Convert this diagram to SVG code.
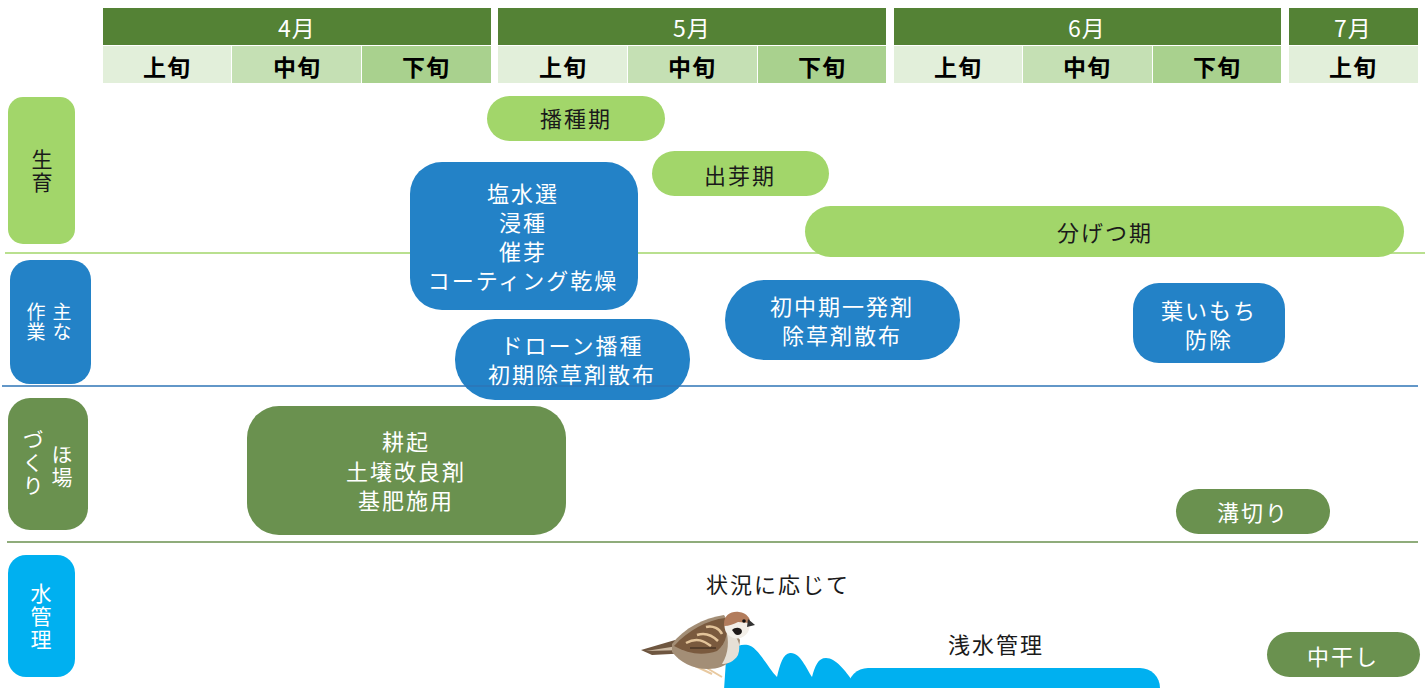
<svg xmlns="http://www.w3.org/2000/svg" width="1425" height="688" viewBox="0 0 1425 688">
  <style>
    text { font-family: "Noto Sans CJK JP", "Noto Sans", sans-serif; text-anchor: middle; }
    .month { fill: #548235; }
    .mtxt { fill: #ffffff; font-size: 23px; letter-spacing: 1px; }
    .c1 { fill: #E2EFDA; }
    .c2 { fill: #C5E0B4; }
    .c3 { fill: #A9D18E; }
    .dtxt { fill: #000000; font-size: 23px; font-weight: bold; letter-spacing: 1px; }
    .grow { fill: #A2D66A; }
    .work { fill: #2382C7; }
    .field { fill: #6A914F; }
    .water { fill: #00B0F0; }
    .blk { fill: #1a1a1a; font-size: 22px; letter-spacing: 2px; }
    .wht { fill: #ffffff; font-size: 22px; letter-spacing: 2px; }
    .vert { writing-mode: vertical-rl; font-size: 21px; letter-spacing: 2px; }
  </style>

  <!-- calendar header -->
  <g id="header">
    <rect class="month" x="103" y="8" width="388" height="37"/>
    <rect class="month" x="498" y="8" width="388" height="37"/>
    <rect class="month" x="894" y="8" width="387" height="37"/>
    <rect class="month" x="1289" y="8" width="129" height="37"/>
    <text class="mtxt" x="297" y="37">4月</text>
    <text class="mtxt" x="692" y="37">5月</text>
    <text class="mtxt" x="1087" y="37">6月</text>
    <text class="mtxt" x="1353" y="37">7月</text>

    <rect class="c1" x="103" y="46" width="128" height="37"/>
    <rect class="c2" x="232" y="46" width="129" height="37"/>
    <rect class="c3" x="362" y="46" width="129" height="37"/>
    <rect class="c1" x="498" y="46" width="129" height="37"/>
    <rect class="c2" x="628" y="46" width="129" height="37"/>
    <rect class="c3" x="758" y="46" width="128" height="37"/>
    <rect class="c1" x="894" y="46" width="128" height="37"/>
    <rect class="c2" x="1023" y="46" width="129" height="37"/>
    <rect class="c3" x="1153" y="46" width="128" height="37"/>
    <rect class="c1" x="1289" y="46" width="129" height="37"/>
    <text class="dtxt" x="167" y="76">上旬</text>
    <text class="dtxt" x="297" y="76">中旬</text>
    <text class="dtxt" x="426" y="76">下旬</text>
    <text class="dtxt" x="563" y="76">上旬</text>
    <text class="dtxt" x="692" y="76">中旬</text>
    <text class="dtxt" x="822" y="76">下旬</text>
    <text class="dtxt" x="958" y="76">上旬</text>
    <text class="dtxt" x="1087" y="76">中旬</text>
    <text class="dtxt" x="1217" y="76">下旬</text>
    <text class="dtxt" x="1353" y="76">上旬</text>
  </g>

  <!-- row separator under the growth row (sits behind the boxes) -->
  <g id="connectors">
    <line x1="5" y1="253" x2="1425" y2="253" stroke="#A2D66A" stroke-width="1.5"/>
  </g>

  <!-- row labels, set vertically -->
  <g id="label-growth">
    <rect class="grow" x="8" y="97" width="67" height="147" rx="15"/>
    <text class="vert" fill="#1a1a1a" x="42" y="172">生育</text>
  </g>
  <g id="label-work">
    <rect class="work" x="10" y="260" width="81" height="124" rx="20"/>
    <text class="vert" fill="#ffffff" style="font-size:19px;letter-spacing:1px" x="62" y="322">主な</text>
    <text class="vert" fill="#ffffff" style="font-size:19px;letter-spacing:1px" x="36" y="322">作業</text>
  </g>
  <g id="label-field">
    <rect class="field" x="8" y="398" width="80" height="132" rx="22"/>
    <text class="vert" fill="#ffffff" x="62" y="467">ほ場</text>
    <text class="vert" fill="#ffffff" x="33" y="463">づくり</text>
  </g>
  <g id="label-water">
    <rect class="water" x="8" y="555" width="67" height="122" rx="18"/>
    <text class="vert" fill="#ffffff" x="41" y="617">水管理</text>
  </g>

  <!-- growth stages -->
  <g id="sowing-period">
    <rect class="grow" x="487" y="96" width="178" height="45" rx="22.5"/>
    <text class="blk" x="576" y="127">播種期</text>
  </g>
  <g id="emergence-period">
    <rect class="grow" x="652" y="151" width="177" height="45" rx="22.5"/>
    <text class="blk" x="740" y="184">出芽期</text>
  </g>
  <g id="tillering-period">
    <rect class="grow" x="805" y="206" width="599" height="51" rx="25.5"/>
    <text class="blk" x="1105" y="241">分げつ期</text>
  </g>

  <!-- main tasks -->
  <g id="seed-prep">
    <rect class="work" x="410" y="162" width="228" height="148" rx="32"/>
    <text class="wht" x="523" y="202">塩水選<tspan x="523" dy="29">浸種</tspan><tspan x="523" dy="29">催芽</tspan><tspan x="523" dy="29">コーティング乾燥</tspan></text>
  </g>
  <g id="drone-sowing">
    <rect class="work" x="455" y="319" width="235" height="81" rx="40"/>
    <text class="wht" x="572" y="354">ドローン播種<tspan x="572" dy="29">初期除草剤散布</tspan></text>
  </g>
  <g id="herbicide">
    <rect class="work" x="725" y="280" width="235" height="80" rx="40"/>
    <text class="wht" x="842" y="315">初中期一発剤<tspan x="842" dy="29">除草剤散布</tspan></text>
  </g>
  <g id="blast-control">
    <rect class="work" x="1133" y="283" width="152" height="80" rx="26"/>
    <text class="wht" x="1209" y="319">葉いもち<tspan x="1209" dy="29">防除</tspan></text>
  </g>

  <!-- field preparation -->
  <g id="tillage">
    <rect class="field" x="247" y="406" width="319" height="129" rx="32"/>
    <text class="wht" x="406" y="450">耕起<tspan x="406" dy="29.5">土壌改良剤</tspan><tspan x="406" dy="29.5">基肥施用</tspan></text>
  </g>
  <g id="ditching">
    <rect class="field" x="1176" y="489" width="154" height="45" rx="22.5"/>
    <text class="wht" x="1253" y="521">溝切り</text>
  </g>

  <!-- remaining separators -->
  <g id="separators">
    <line x1="2" y1="386" x2="1418" y2="386" stroke="#2E75B6" stroke-width="1.5"/>
    <line x1="7" y1="542" x2="1418" y2="542" stroke="#6A914F" stroke-width="1.5"/>
  </g>

  <!-- water management -->
  <g id="water-note">
    <text class="blk" x="778" y="593">状況に応じて</text>
  </g>
  <g id="shallow-water">
    <path class="water" d="M 724,690 L 726,660 C 728,650 738,643 748,645 C 758,647 768,668 777,677 C 780,664 783,654 790,653 C 800,652 806,668 812,677 C 815,666 818,658 826,658 C 836,658 846,672 852,680 L 852,690 Z"/>
    <rect class="water" x="848" y="668" width="312" height="60" rx="20"/>
    <text class="blk" x="996" y="653">浅水管理</text>
  </g>
  <g id="midseason-drain">
    <rect class="field" x="1267" y="632" width="153" height="45" rx="22.5"/>
    <text class="wht" x="1343" y="665">中干し</text>
  </g>

  <!-- sparrow perched on the water -->
  <g id="sparrow">
    <line x1="700" y1="664" x2="722" y2="677" stroke="#E8C9A0" stroke-width="2"/>
    <line x1="693" y1="665" x2="712" y2="674" stroke="#E8C9A0" stroke-width="2"/>
    <!-- tail -->
    <path d="M 641,650 L 682,638 L 690,653 L 652,655 Z" fill="#6E5640"/>
    <path d="M 646,651 L 684,645 L 686,650 Z" fill="#CDBBA5"/>
    <!-- body -->
    <path d="M 672,644 C 684,628 704,618 724,615 L 740,640 C 739,656 728,669 708,669 C 692,669 680,662 672,652 Z" fill="#A38E76"/>
    <!-- chest -->
    <path d="M 726,630 C 737,634 742,644 738,655 C 734,662 727,664 722,664 C 729,653 729,640 726,630 Z" fill="#E6E0D6"/>
    <!-- wing -->
    <path d="M 674,646 C 688,630 708,620 725,618 C 729,630 727,643 717,651 C 703,656 688,654 674,646 Z" fill="#7A5A3E"/>
    <path d="M 686,643 C 697,637 704,641 711,646 M 697,635 C 706,632 713,636 718,641 M 706,627 C 713,625 720,629 722,634" stroke="#E3C49A" stroke-width="2.5" fill="none"/>
    <path d="M 690,648 L 716,648" stroke="#4A3626" stroke-width="1.5"/>
    <!-- head -->
    <circle cx="737" cy="626" r="12.5" fill="#F3EFE8"/>
    <path d="M 724,624 C 724,615 731,611 739,612 C 747,613 751,619 750,623 L 738,622 C 734,624 729,626 724,626 Z" fill="#B27C5C"/>
    <path d="M 732,630 C 735,627 741,627 742,631 C 742,635 737,636 735,634 Z" fill="#1E1A18"/>
    <circle cx="744" cy="621" r="1.8" fill="#111"/>
    <path d="M 748,619 L 755,625 L 747,627 Z" fill="#333"/>
  </g>
</svg>
